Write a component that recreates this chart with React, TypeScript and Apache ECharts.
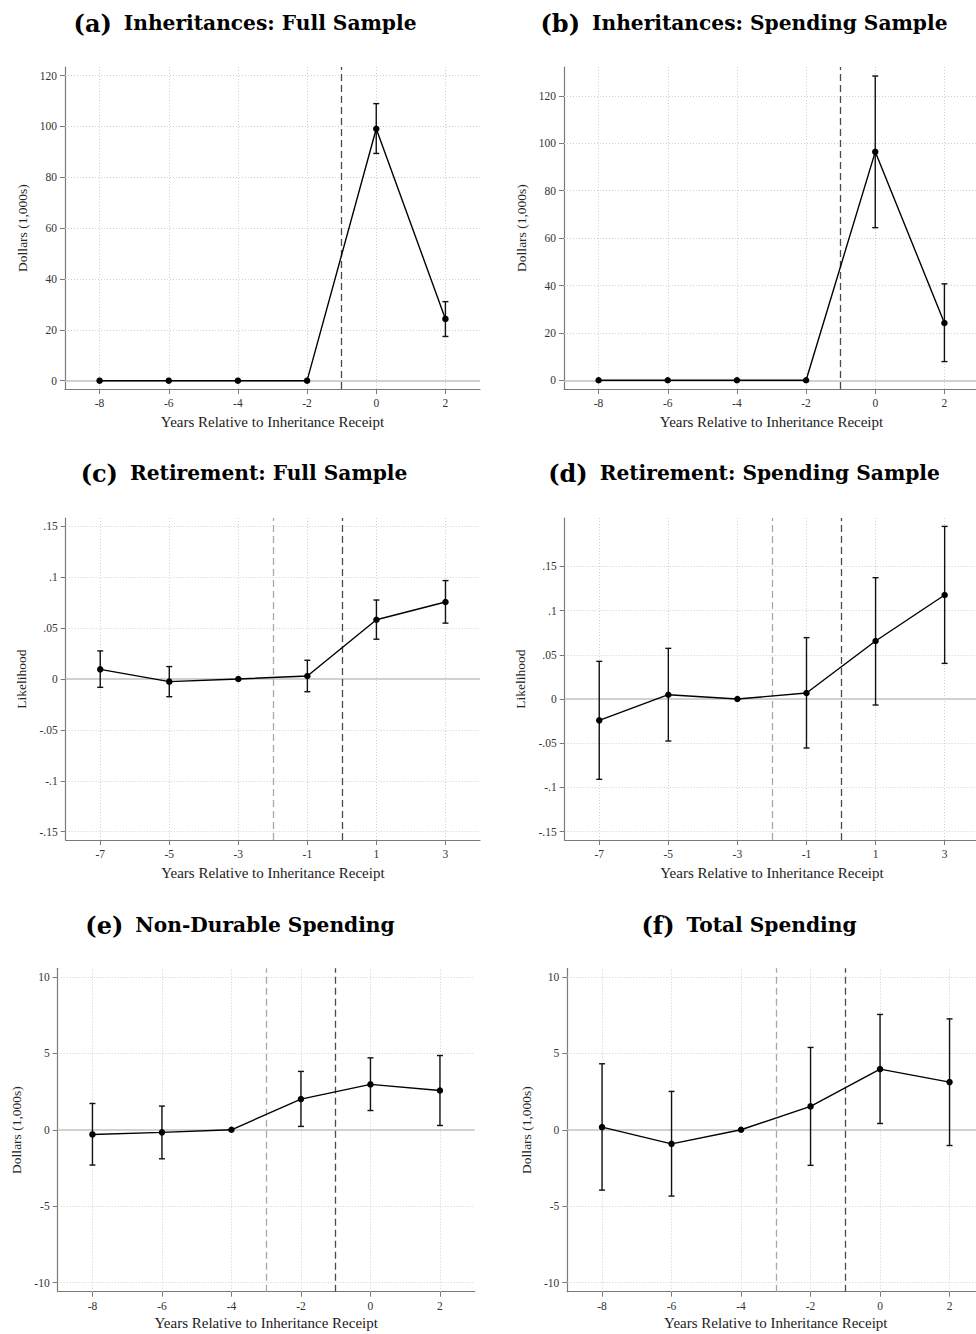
import React, { useEffect, useRef } from 'react';
import * as echarts from 'echarts';

const X_TITLE = 'Years Relative to Inheritance Receipt';

const titleA = 'Inheritances: Full Sample';
const yearsA = [-8, -6, -4, -2, 0, 2];
const estA = [0, 0, 0, 0, 99.1, 24.3];
const lowA = [null, null, null, null, 89.4, 17.4];
const highA = [null, null, null, null, 109.0, 31.1];

const titleB = 'Inheritances: Spending Sample';
const yearsB = [-8, -6, -4, -2, 0, 2];
const estB = [0, 0, 0, 0, 96.4, 24.2];
const lowB = [null, null, null, null, 64.4, 7.9];
const highB = [null, null, null, null, 128.4, 40.7];

const titleC = 'Retirement: Full Sample';
const yearsC = [-7, -5, -3, -1, 1, 3];
const estC = [0.0095, -0.0026, 0, 0.003, 0.0582, 0.0757];
const lowC = [-0.0082, -0.0174, null, -0.0125, 0.0391, 0.0549];
const highC = [0.0276, 0.0122, null, 0.0184, 0.0776, 0.0967];

const titleD = 'Retirement: Spending Sample';
const yearsD = [-7, -5, -3, -1, 1, 3];
const estD = [-0.0241, 0.0049, 0, 0.0068, 0.0656, 0.1176];
const lowD = [-0.0908, -0.0475, null, -0.0554, -0.0068, 0.0403];
const highD = [0.0426, 0.0573, null, 0.0694, 0.1372, 0.1952];

const titleE = 'Non-Durable Spending';
const yearsE = [-8, -6, -4, -2, 0, 2];
const estE = [-0.305, -0.17, 0, 2.01, 2.97, 2.57];
const lowE = [-2.31, -1.9, null, 0.22, 1.26, 0.28];
const highE = [1.72, 1.55, null, 3.82, 4.71, 4.86];

const titleF = 'Total Spending';
const yearsF = [-8, -6, -4, -2, 0, 2];
const estF = [0.17, -0.92, 0, 1.53, 3.97, 3.12];
const lowF = [-3.95, -4.34, null, -2.33, 0.41, -1.03];
const highF = [4.32, 2.51, null, 5.39, 7.55, 7.26];

const xTicksEven = [-8, -6, -4, -2, 0, 2];
const xTicksOdd = [-7, -5, -3, -1, 1, 3];
const yTicksInh = [0, 20, 40, 60, 80, 100, 120];
const yTicksRet = [-0.15, -0.1, -0.05, 0, 0.05, 0.1, 0.15];
const yTicksSpend = [-10, -5, 0, 5, 10];

const fmtRet = (v: number) =>
  v === 0 ? '0' : String(parseFloat(v.toFixed(2))).replace('0.', '.');
const fmtInt = (v: number) => String(Math.round(v));

const panels = [
  { tag: '(a)', title: titleA, years: yearsA, est: estA, low: lowA, high: highA, xTicks: xTicksEven, yTicks: yTicksInh, fmt: fmtInt, yName: 'Dollars (1,000s)', xRange: [-9, 3], yRange: [-3.27, 123.4], light: null, dark: -1, box: [65, 67, 415, 322], head: [245, 23], yGap: 36, xGap: 25 },
  { tag: '(b)', title: titleB, years: yearsB, est: estB, low: lowB, high: highB, xTicks: xTicksEven, yTicks: yTicksInh, fmt: fmtInt, yName: 'Dollars (1,000s)', xRange: [-9, 3], yRange: [-3.67, 132.2], light: null, dark: -1, box: [564, 67, 415, 322], head: [744, 23], yGap: 36, xGap: 25 },
  { tag: '(c)', title: titleC, years: yearsC, est: estC, low: lowC, high: highC, xTicks: xTicksOdd, yTicks: yTicksRet, fmt: fmtRet, yName: 'Likelihood', xRange: [-8, 4], yRange: [-0.1582, 0.1582], light: -2, dark: 0, box: [65.7, 518, 414.3, 322], head: [244, 473], yGap: 37, xGap: 25 },
  { tag: '(d)', title: titleD, years: yearsD, est: estD, low: lowD, high: highD, xTicks: xTicksOdd, yTicks: yTicksRet, fmt: fmtRet, yName: 'Likelihood', xRange: [-8, 4], yRange: [-0.1594, 0.2047], light: -2, dark: 0, box: [564.7, 518, 414.5, 322], head: [744, 473], yGap: 37.5, xGap: 25 },
  { tag: '(e)', title: titleE, years: yearsE, est: estE, low: lowE, high: highE, xTicks: xTicksEven, yTicks: yTicksSpend, fmt: fmtInt, yName: 'Dollars (1,000s)', xRange: [-9, 3], yRange: [-10.6, 10.57], light: -3, dark: -1, box: [57.7, 968.3, 417, 323.4], head: [240, 925], yGap: 34, xGap: 24 },
  { tag: '(f)', title: titleF, years: yearsF, est: estF, low: lowF, high: highF, xTicks: xTicksEven, yTicks: yTicksSpend, fmt: fmtInt, yName: 'Dollars (1,000s)', xRange: [-9, 3], yRange: [-10.6, 10.57], light: -3, dark: -1, box: [567.3, 968.3, 417, 323.4], head: [749, 925], yGap: 34, xGap: 24 },
];

const SERIF = "'Liberation Serif', 'Times New Roman', serif";
const AXIS_COLOR = '#7a7a7a';
const gridStyle = { color: '#cfcfcf', width: 1, type: [1, 2] as any };

function buildOption() {
  const grid: any[] = [];
  const xAxis: any[] = [];
  const yAxis: any[] = [];
  const series: any[] = [];
  const graphic: any[] = [];

  panels.forEach((p, i) => {
    grid.push({
      left: p.box[0], top: p.box[1], width: p.box[2], height: p.box[3],
      outerBoundsMode: 'none', containLabel: false,
    });
    xAxis.push({
      type: 'value', gridIndex: i, min: p.xRange[0], max: p.xRange[1],
      name: X_TITLE, nameLocation: 'middle', nameGap: p.xGap,
      nameTextStyle: { fontFamily: SERIF, fontSize: 15, color: '#222' },
      axisLine: { show: true, onZero: false, lineStyle: { color: AXIS_COLOR, width: 1.2 } },
      axisTick: { show: true, length: 5, customValues: p.xTicks, lineStyle: { color: AXIS_COLOR } },
      axisLabel: { customValues: p.xTicks, margin: 8, fontFamily: SERIF, fontSize: 11.5, color: '#333', formatter: fmtInt },
      splitLine: { show: false },
    });
    yAxis.push({
      type: 'value', gridIndex: i, min: p.yRange[0], max: p.yRange[1],
      name: p.yName, nameLocation: 'middle', nameGap: p.yGap,
      nameTextStyle: { fontFamily: SERIF, fontSize: 13.5, color: '#222' },
      axisLine: { show: true, onZero: false, lineStyle: { color: AXIS_COLOR, width: 1.2 } },
      axisTick: { show: true, length: 5, customValues: p.yTicks, lineStyle: { color: AXIS_COLOR } },
      axisLabel: { customValues: p.yTicks, margin: 8, fontFamily: SERIF, fontSize: 11.5, color: '#333', formatter: p.fmt },
      splitLine: { show: false },
    });

    const mlData: any[] = [];
    p.yTicks.filter((v) => v !== 0).forEach((v) => mlData.push({ yAxis: v, lineStyle: gridStyle }));
    p.xTicks.forEach((v) => mlData.push({ xAxis: v, lineStyle: gridStyle }));
    mlData.push({ yAxis: 0, lineStyle: { color: '#c2c2c2', width: 1.5, type: 'solid' } });
    if (p.light !== null) mlData.push({ xAxis: p.light, lineStyle: { color: '#a8a8a8', width: 1.3, type: [7, 4] } });
    if (p.dark !== null) mlData.push({ xAxis: p.dark, lineStyle: { color: '#4a4a4a', width: 1.3, type: [7, 4] } });

    const pts = p.years.map((x, k) => [x, p.est[k]]);

    series.push({
      type: 'line', xAxisIndex: i, yAxisIndex: i, data: pts, z: 1,
      showSymbol: false, lineStyle: { width: 0, opacity: 0 }, silent: true,
      markLine: { silent: true, symbol: ['none', 'none'], label: { show: false }, z: 1, data: mlData, emphasis: { disabled: true } },
    });

    const bars = p.years
      .map((x, k) => [x, p.low[k], p.high[k]])
      .filter((r) => r[1] !== null && r[2] !== null);
    series.push({
      type: 'custom', xAxisIndex: i, yAxisIndex: i, z: 3, silent: true,
      data: bars,
      renderItem: (params: any, api: any) => {
        const x = api.value(0);
        const top = api.coord([x, api.value(2)]);
        const bot = api.coord([x, api.value(1)]);
        const st = { stroke: '#111', lineWidth: 1.4 };
        const hw = 3;
        return {
          type: 'group',
          children: [
            { type: 'line', shape: { x1: top[0], y1: top[1], x2: bot[0], y2: bot[1] }, style: st },
            { type: 'line', shape: { x1: top[0] - hw, y1: top[1], x2: top[0] + hw, y2: top[1] }, style: st },
            { type: 'line', shape: { x1: bot[0] - hw, y1: bot[1], x2: bot[0] + hw, y2: bot[1] }, style: st },
          ],
        };
      },
    });

    series.push({
      type: 'line', xAxisIndex: i, yAxisIndex: i, data: pts, z: 4,
      symbol: 'circle', symbolSize: 6.5, showSymbol: true,
      itemStyle: { color: '#000' }, lineStyle: { color: '#000', width: 1.4 },
      silent: true,
    });

    graphic.push({
      type: 'text', x: p.head[0], y: p.head[1], silent: true,
      style: {
        text: '{p|' + p.tag + '}{t|' + p.title + '}',
        align: 'center', verticalAlign: 'middle', fill: '#000',
        rich: {
          p: { fontFamily: "'DejaVu Serif', serif", fontWeight: 'bold', fontSize: 24, padding: [0, 12, 0, 0], fill: '#000' },
          t: { fontFamily: "'DejaVu Serif', serif", fontWeight: 'bold', fontSize: 20.2, fill: '#000' },
        },
      },
    });
  });

  return { animation: false, backgroundColor: '#fff', grid, xAxis, yAxis, series, graphic };
}

export default function App() {
  const ref = useRef<HTMLDivElement>(null);
  useEffect(() => {
    if (!ref.current) return;
    const chart = echarts.init(ref.current, null, { renderer: 'svg' });
    chart.setOption(buildOption() as any);
    return () => chart.dispose();
  }, []);
  return (
    <div
      ref={ref}
      style={{ position: 'absolute', left: 0, top: 0, width: 976, height: 1334, background: '#fff' }}
    />
  );
}
